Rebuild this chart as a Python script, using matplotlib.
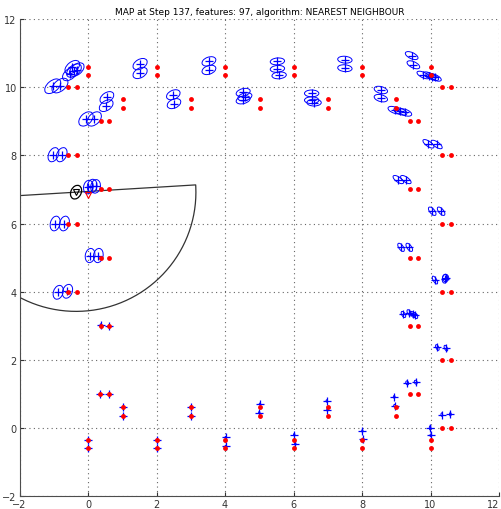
import numpy as np
import matplotlib
matplotlib.use('Agg')
import matplotlib.pyplot as plt
from matplotlib.patches import Ellipse

# true landmark positions (red)
true_x = [0, 0, 2, 2, 4, 4, 6, 6, 8, 8, 10, 10,
          1.02, 1.02, 3.0, 3.0, 5.02, 5.02, 7.0, 7.0, 8.98, 8.98,
          -0.58, -0.31, 10.34, 10.6, 0.37, 0.61, 9.4, 9.64,
          -0.58, -0.31, -0.58, -0.31, -0.58, -0.31,
          0.37, 0.61, 0.37, 0.61, 0.37, 0.61,
          10.34, 10.6, 10.34, 10.6, 10.34, 10.6, 10.34, 10.6, 10.34, 10.6,
          9.4, 9.64, 9.4, 9.64, 9.4, 9.64, 9.4, 9.64,
          0, 0, 2, 2, 4, 4, 6, 6, 8, 8, 10, 10,
          1.02, 1.02, 3.0, 3.0, 5.02, 5.02, 7.0, 7.0, 8.98, 8.98,
          0.35, 0.61]
true_y = [10.6, 10.35, 10.6, 10.35, 10.6, 10.35, 10.6, 10.35, 10.6, 10.35, 10.6, 10.35,
          9.67, 9.4, 9.67, 9.4, 9.67, 9.4, 9.67, 9.4, 9.67, 9.4,
          10.0, 10.0, 10.0, 10.0, 9.0, 9.0, 9.0, 9.0,
          8.0, 8.0, 6.0, 6.0, 4.0, 4.0,
          7.0, 7.0, 5.0, 5.0, 3.0, 3.0,
          8.0, 8.0, 6.0, 6.0, 4.0, 4.0, 2.0, 2.0, 0.0, 0.0,
          7.0, 7.0, 5.0, 5.0, 3.0, 3.0, 1.0, 1.0,
          -0.36, -0.6, -0.36, -0.6, -0.36, -0.6, -0.36, -0.6, -0.36, -0.6, -0.36, -0.6,
          0.6, 0.35, 0.6, 0.35, 0.6, 0.35, 0.6, 0.35, 0.6, 0.35,
          1.0, 1.0]

# estimated features (blue) with covariance ellipses: width, height, angle
est_x = [-1.03, -0.82, -0.46, -0.41, -0.53, -0.33, -0.06, 0.18, 0.55, 0.53,
         1.52, 1.52, 2.49, 2.51, 3.53, 3.53, 4.53, 4.53, 4.58,
         5.53, 5.53, 5.58, 6.53, 6.53, 6.6, 7.5, 7.5, 8.55, 8.55,
         8.95, 9.12, 9.26, 9.45, 9.5, 9.79, 9.97, 10.13, 10.05,
         9.94, 10.18, 9.06, 9.28, 10.05, 10.31, 9.14, 9.38,
         10.13, 10.42, 10.44, 9.21, 9.38, 9.48, 9.56, 10.2, 10.45,
         9.32, 9.57, 8.94, 8.95, 10.33, 10.58, 9.99, 10.01,
         8.01, 8.04, 6.97, 6.99, 6.02, 6.05, 5.02, 5.0, 4.02, 4.02,
         3.0, 3.0, 2.0, 2.0, 1.03, 1.02, 0.0, 0.0, 0.35, 0.61, 0.37, 0.61,
         -0.87, -0.6, 0.06, 0.3, -0.96, -0.69, 0.01, 0.22, 0.12, -1.01, -0.77]
est_y = [10.03, 10.05, 10.59, 10.49, 10.39, 10.52, 9.07, 9.07, 9.7, 9.46,
         10.68, 10.42, 9.78, 9.52, 10.76, 10.51, 9.85, 9.63, 9.72,
         10.76, 10.54, 10.35, 9.82, 9.62, 9.55, 10.81, 10.56, 9.92, 9.68,
         9.33, 9.29, 9.26, 10.93, 10.66, 10.36, 10.34, 10.29, 10.31,
         8.34, 8.32, 7.29, 7.29, 6.36, 6.36, 5.3, 5.3,
         4.34, 4.38, 4.4, 3.33, 3.38, 3.33, 3.3, 2.36, 2.34,
         1.32, 1.34, 0.91, 0.65, 0.39, 0.4, 0.0, -0.22,
         -0.09, -0.34, 0.79, 0.53, -0.2, -0.47, 0.7, 0.45, -0.28, -0.54,
         0.62, 0.36, -0.35, -0.6, 0.62, 0.35, -0.35, -0.6, 1.0, 1.0, 3.03, 3.0,
         3.98, 4.01, 5.06, 5.06, 6.0, 6.0, 7.07, 7.09, 7.1, 8.02, 8.02]
ell_w = [0.55, 0.55, 0.5, 0.5, 0.5, 0.5, 0.5, 0.5, 0.45, 0.45,
         0.45, 0.45, 0.42, 0.42, 0.42, 0.42, 0.42, 0.42, 0.42,
         0.42, 0.42, 0.42, 0.42, 0.42, 0.42, 0.42, 0.42, 0.4, 0.4,
         0.4, 0.4, 0.4, 0.4, 0.4, 0.4, 0.4, 0.4, 0.4,
         0.38, 0.38, 0.36, 0.36, 0.3, 0.3, 0.28, 0.28,
         0.26, 0.26, 0.22, 0.2, 0.2, 0.2, 0.2, 0.18, 0.18,
         0.12, 0.12, 0.08, 0.08, 0.1, 0.1, 0.12, 0.08,
         0.07, 0.07, 0.07, 0.07, 0.07, 0.07, 0.06, 0.06, 0.06, 0.06,
         0.05, 0.05, 0.05, 0.05, 0.05, 0.05, 0.04, 0.04, 0.04, 0.04, 0.05, 0.05,
         0.42, 0.42, 0.42, 0.42, 0.44, 0.44, 0.4, 0.4, 0.4, 0.44, 0.44]
ell_h = [0.32, 0.32, 0.3, 0.3, 0.3, 0.3, 0.32, 0.32, 0.28, 0.28,
         0.28, 0.28, 0.26, 0.26, 0.25, 0.25, 0.22, 0.22, 0.22,
         0.2, 0.2, 0.2, 0.2, 0.2, 0.2, 0.2, 0.2, 0.2, 0.2,
         0.18, 0.18, 0.18, 0.18, 0.18, 0.16, 0.16, 0.16, 0.16,
         0.15, 0.15, 0.15, 0.15, 0.14, 0.14, 0.13, 0.13,
         0.1, 0.15, 0.18, 0.1, 0.1, 0.1, 0.1, 0.08, 0.08,
         0.08, 0.08, 0.05, 0.05, 0.05, 0.05, 0.05, 0.05,
         0.04, 0.04, 0.04, 0.04, 0.04, 0.04, 0.04, 0.04, 0.04, 0.04,
         0.03, 0.03, 0.03, 0.03, 0.03, 0.03, 0.03, 0.03, 0.03, 0.03, 0.03, 0.03,
         0.28, 0.28, 0.28, 0.28, 0.28, 0.28, 0.28, 0.28, 0.28, 0.28, 0.28]
ell_ang = [40, 40, 40, 40, 40, 40, 45, 45, 35, 35,
           30, 30, 25, 25, 20, 20, 15, 15, 15,
           5, 5, 5, 0, 0, 0, -5, -5, -15, -15,
           -20, -20, -20, -25, -25, -25, -25, -25, -25,
           -35, -35, -35, -35, -50, -50, -55, -55,
           -60, 80, 90, -60, -60, -60, -60, -65, -65,
           -70, -70, 90, 90, 90, 90, 90, 90,
           90, 90, 90, 90, 90, 90, 90, 90, 90, 90,
           90, 90, 90, 90, 90, 90, 90, 90, 90, 90, 90, 90,
           70, 70, 80, 80, 75, 75, 80, 80, 80, 65, 65]

# robot: estimated pose, true pose and sensor range
robot_est = (-0.35, 6.92)
robot_cov = (0.42, 0.3, 65)
robot_true = (0.0, 6.85)
sensor_range = 3.5
sensor_start, sensor_end = -176.5, 3.5

fig = plt.figure(figsize=(5.01, 5.10), dpi=100)
ax = fig.add_axes([0.039, 0.0255, 0.957, 0.935])

for x, y, w, h, a in zip(est_x, est_y, ell_w, ell_h, ell_ang):
    ax.add_patch(Ellipse((x, y), w, h, angle=a, fill=False,
                         edgecolor='blue', lw=0.7, zorder=3))
ax.plot(est_x, est_y, '+', color='blue', ms=6, mew=0.9, zorder=4)
ax.plot(true_x, true_y, 'o', color='red', ms=3.5, mew=0, zorder=5)

# sensor sweep
th = np.radians(np.linspace(sensor_start, sensor_end, 200))
arc_x = robot_est[0] + sensor_range * np.cos(th)
arc_y = robot_est[1] + sensor_range * np.sin(th)
ax.plot(np.r_[arc_x, arc_x[0]], np.r_[arc_y, arc_y[0]], color='0.2', lw=0.9, zorder=2)

ax.add_patch(Ellipse(robot_est, robot_cov[0], robot_cov[1], angle=robot_cov[2],
                     fill=False, edgecolor='black', lw=0.9, zorder=6))
ax.plot(*robot_est, 'v', mfc='none', mec='black', ms=5, mew=0.8, zorder=6)
ax.plot(*robot_true, 'v', mfc='none', mec='red', ms=5, mew=0.8, zorder=6)

ax.set_xlim(-2, 12)
ax.set_ylim(-2, 12)
ax.set_xticks(range(-2, 13, 2))
ax.set_yticks(range(-2, 13, 2))
ax.grid(True, linestyle=(0, (1, 3)), color='0.4', lw=0.8)
ax.set_axisbelow(True)
for s in ['top', 'right']:
    ax.spines[s].set_visible(False)
for s in ['left', 'bottom']:
    ax.spines[s].set_color('0.3')
ax.tick_params(direction='in', length=3, labelsize=7, pad=2, colors='0.2')
ax.get_xticklabels()[-1].set_horizontalalignment('right')
ax.set_title('MAP at Step 137, features: 97, algorithm: NEAREST NEIGHBOUR',
             fontsize=6.5, pad=4)

fig.savefig('out.png', dpi=100)
